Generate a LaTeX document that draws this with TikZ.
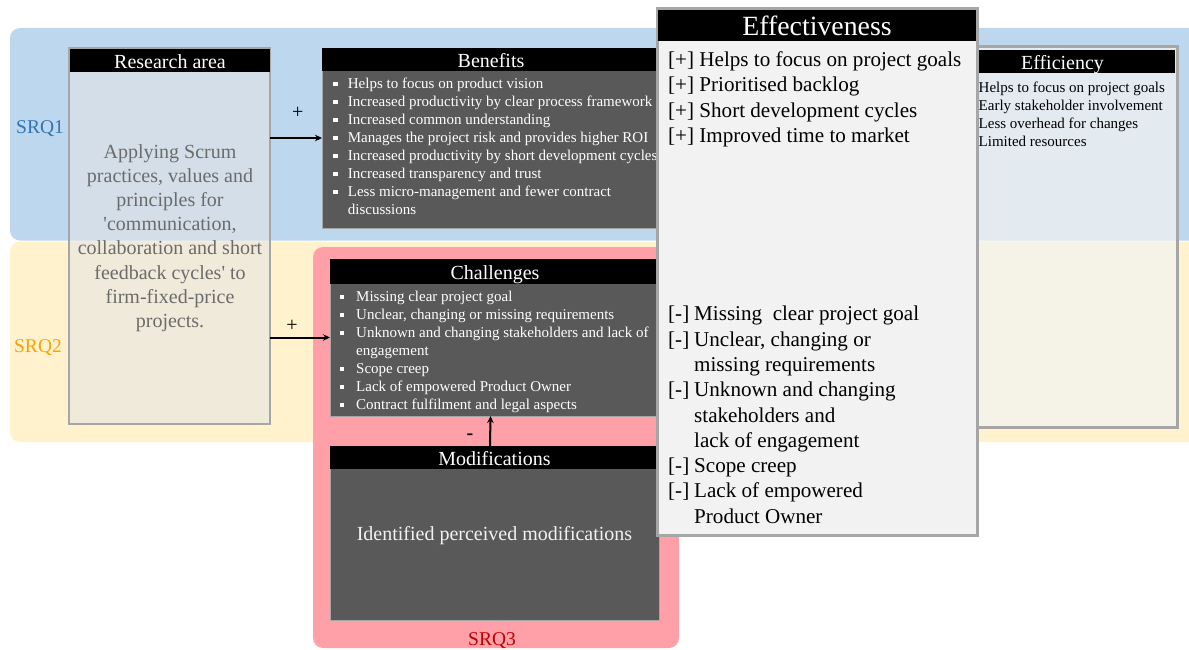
\documentclass[tikz,border=0pt]{standalone}
\usepackage{fontspec}
\setmainfont{Liberation Serif}[Ligatures=TeXOff]
\usetikzlibrary{arrows.meta}

\definecolor{bandblue}{HTML}{BDD7EE}
\definecolor{bandyellow}{HTML}{FFF2CC}
\definecolor{srqpink}{HTML}{FFA0A8}
\definecolor{panel}{HTML}{595959}
\definecolor{frame}{HTML}{A6A6A6}
\definecolor{lightpanel}{HTML}{F2F2F2}
\definecolor{veil}{HTML}{E5E5E5}
\definecolor{srqblue}{HTML}{2E75B6}
\definecolor{srqorange}{HTML}{FFA000}
\definecolor{srqred}{HTML}{C00000}
\definecolor{softtext}{HTML}{6B6B6B}

\newcommand\setfs[2]{\fontsize{#1}{#2}\selectfont}
\newcommand\sqbul[1]{\makebox[#1][l]{\rule[2.3pt]{4.4pt}{4.4pt}}}
\newcommand\minusmark{\makebox[26pt][l]{[-]}}
\newcommand\plusmark{{[+]}}

\begin{document}
\begin{tikzpicture}[x=1pt,y=-1pt,
  panelbox/.style={draw=frame, line width=0.8pt, fill=panel, anchor=north west, inner sep=0, outer sep=0},
  veilbox/.style={draw=frame, line width=2pt, fill=veil, fill opacity=0.57, anchor=north west, inner sep=0, outer sep=0},
  hdr/.style={fill=black, text=white, font=\setfs{20}{24}, text height=15.5pt, text depth=0pt, anchor=north west, inner sep=0, outer sep=0},
  bullets/.style={text=white, font=\setfs{15}{18}, align=left, anchor=north west, inner sep=0},
  plainlist/.style={text=black, align=left, anchor=north west, inner sep=0},
  link/.style={line width=2pt, -{Stealth[length=7pt,width=6.5pt]}},
  sign/.style={font=\setfs{20}{24}, inner sep=0},
  srq/.style={font=\setfs{19.5}{24}, inner sep=0}]

\useasboundingbox (0,0) rectangle (1189,650);
\clip (0,0) rectangle (1189,650);

% background bands for the sub-research questions
\fill[bandblue, rounded corners=10] (10,28) rectangle (1220,240.5);
\fill[bandyellow, rounded corners=10] (10,241.5) rectangle (1220,442);
\fill[srqpink, rounded corners=10] (313,247) rectangle (679,648);

\node[srq, text=srqblue] (srq1) at (40,129) {SRQ1};
\node[srq, text=srqorange] (srq2) at (38,348) {SRQ2};
\node[srq, text=srqred] (srq3) at (492,641) {SRQ3};

% research area
\node[veilbox, minimum width=201, minimum height=376] (ra) at (69,48) {};
\node[hdr, minimum width=200, minimum height=23] (rahead) at (70,49.5) {Research area};
\node[text=softtext, font=\setfs{20}{24.2}, align=center, inner sep=0] (ratext) at (170,238)
  {Applying Scrum\\practices, values and\\principles for\\'communication,\\collaboration and short\\feedback cycles' to\\firm-fixed-price\\projects.};

% benefits
\node[panelbox, minimum width=338, minimum height=180] (ben) at (322,48) {};
\node[hdr, minimum width=338, minimum height=23] (benhead) at (322,48) {Benefits};
\node[bullets] (benlist) at (333,78)
  {\sqbul{14.7pt}Helps to focus on product vision\\
   \sqbul{14.7pt}Increased productivity by clear process framework\\
   \sqbul{14.7pt}Increased common understanding\\
   \sqbul{14.7pt}Manages the project risk and provides higher ROI\\
   \sqbul{14.7pt}Increased productivity by short development cycles\\
   \sqbul{14.7pt}Increased transparency and trust\\
   \sqbul{14.7pt}Less micro-management and fewer contract\\
   \hspace*{14.7pt}discussions};

% challenges
\node[panelbox, minimum width=330, minimum height=157] (chal) at (330,259) {};
\node[hdr, minimum width=330, minimum height=25] (chalhead) at (330,259) {Challenges};
\node[bullets] (challist) at (339.5,291)
  {\sqbul{16.5pt}Missing clear project goal\\
   \sqbul{16.5pt}Unclear, changing or missing requirements\\
   \sqbul{16.5pt}Unknown and changing stakeholders and lack of\\
   \hspace*{16.5pt}engagement\\
   \sqbul{16.5pt}Scope creep\\
   \sqbul{16.5pt}Lack of empowered Product Owner\\
   \sqbul{16.5pt}Contract fulfilment and legal aspects};

% modifications
\node[panelbox, minimum width=329, minimum height=174] (mod) at (330,446) {};
\node[hdr, minimum width=329, minimum height=23] (modhead) at (330,446) {Modifications};
\node[text=lightpanel, font=\setfs{20}{24}, inner sep=0] (modtext) at (494.5,536) {Identified perceived modifications};

% connectors
\draw[link] (ra.east |- ben.west) -- (ben.west);
\draw[link] (ra.east |- chal.west) -- (chal.west);
\draw[link] ([xshift=-4.5pt]mod.north) -- ([xshift=-4.5pt]chal.south);
\node[sign] (plus1) at (297.7,112.7) {+};
\node[sign] (plus2) at (292,326) {+};
\node[sign, font=\bfseries\setfs{20}{24}] (minus1) at (470,436.5) {-};

% efficiency (its left part lies under the effectiveness panel)
\node[veilbox, draw=frame, line width=3pt, fill=lightpanel, fill opacity=0.75, minimum width=229, minimum height=380] (effi) at (948,47) {};
\node[hdr, minimum width=225, minimum height=23] (effihead) at (950,50) {Efficiency};
\node[plainlist, font=\setfs{15}{18}] (effilist) at (978.5,81.5)
  {Helps to focus on project goals\\
   Early stakeholder involvement\\
   Less overhead for changes\\
   Limited resources};

% effectiveness
\node[draw=frame, line width=3pt, fill=lightpanel, anchor=north west, inner sep=0, outer sep=0, minimum width=320, minimum height=527] (effe) at (657,8.5) {};
\node[hdr, font=\setfs{27.8}{30}, text height=21pt, minimum width=318, minimum height=31] (effehead) at (658,10) {Effectiveness};
\node[plainlist, font=\setfs{21.1}{25.3}] (effeplus) at (668,51.5)
  {\plusmark{} Helps to focus on project goals\\
   \plusmark{} Prioritised backlog\\
   \plusmark{} Short development cycles\\
   \plusmark{} Improved time to market};
\node[plainlist, font=\setfs{21.1}{25.3}] (effeminus) at (668,306)
  {\minusmark Missing\ \ clear project goal\\
   \minusmark Unclear, changing or\\
   \hspace*{26pt}missing requirements\\
   \minusmark Unknown and changing\\
   \hspace*{26pt}stakeholders and\\
   \hspace*{26pt}lack of engagement\\
   \minusmark Scope creep\\
   \minusmark Lack of empowered\\
   \hspace*{26pt}Product Owner};

\end{tikzpicture}
\end{document}
